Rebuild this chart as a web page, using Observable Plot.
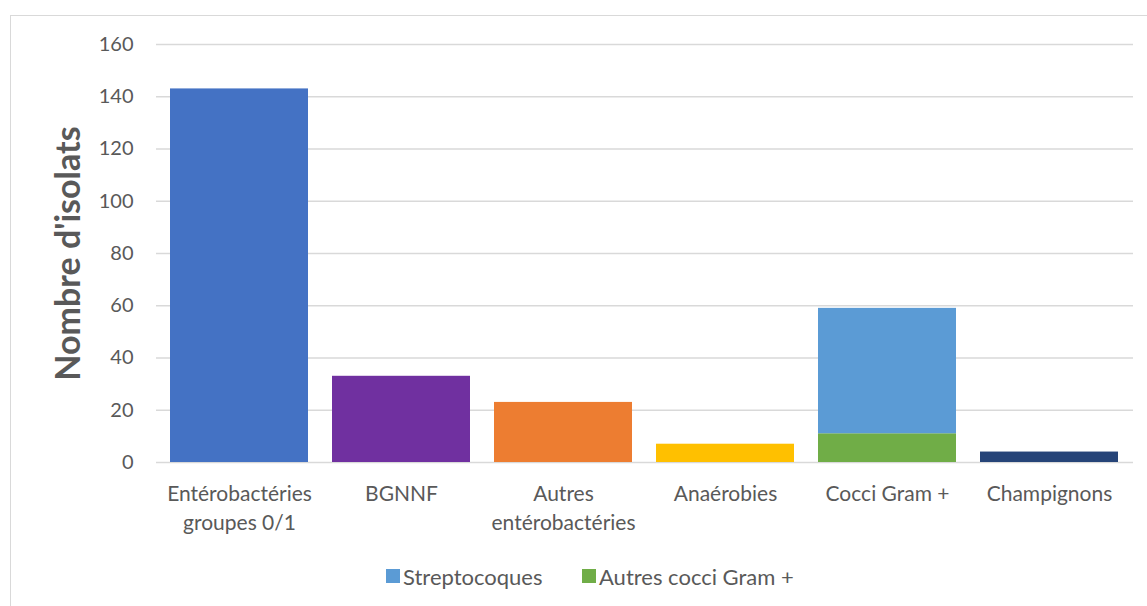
<!DOCTYPE html>
<html>
<head>
<meta charset="utf-8">
<script src="https://cdn.jsdelivr.net/npm/d3@7"></script>
<script src="https://cdn.jsdelivr.net/npm/@observablehq/plot@0.6"></script>
<style>
  html, body { margin: 0; padding: 0; background: #fff; overflow: hidden; width: 1147px; height: 606px; }
  #frame { position: absolute; left: 10px; top: 15px; width: 1200px; height: 700px; border: 1px solid #d9d9d9; box-sizing: border-box; }
  #chart { position: absolute; left: 0; top: 0; }
  #legend { position: absolute; left: 0; top: 561px; width: 1147px; font-family: Lato, "Open Sans", sans-serif; font-size: 22px; color: #595959; }
  .item { position: absolute; top: 0; height: 30px; display: flex; align-items: center; white-space: nowrap; }
  .sw { width: 14px; height: 14px; margin-right: 3px; display: inline-block; }
</style>
</head>
<body>
<div id="frame"></div>
<div id="chart"></div>
<div id="legend"></div>
<script>
// Data
const categories = ["Entérobactéries\ngroupes 0/1", "BGNNF", "Autres\nentérobactéries", "Anaérobies", "Cocci Gram +", "Champignons"];
const barCategory = ["Entérobactéries\ngroupes 0/1", "BGNNF", "Autres\nentérobactéries", "Anaérobies", "Cocci Gram +", "Cocci Gram +", "Champignons"];
const barSeries = ["Entérobactéries groupes 0/1", "BGNNF", "Autres entérobactéries", "Anaérobies", "Autres cocci Gram +", "Streptocoques", "Champignons"];
const barValues = [143, 33, 23, 7, 11, 48, 4];
const seriesColors = ["#4472C4", "#7030A0", "#ED7D31", "#FFC000", "#70AD47", "#5B9BD5", "#264478"];
const yTicks = [0, 20, 40, 60, 80, 100, 120, 140, 160];
const yLabel = "Nombre d'isolats";
const legendLabels = ["Streptocoques", "Autres cocci Gram +"];
const legendColors = ["#5B9BD5", "#70AD47"];
const legendX = [386, 582];

const rows = barValues.map((v, i) => ({cat: barCategory[i], series: barSeries[i], value: v}));

const font = 'Lato, "Open Sans", sans-serif';
const chart = Plot.plot({
  width: 1147,
  height: 545,
  marginLeft: 156,
  marginRight: 14,
  marginTop: 44,
  marginBottom: 83,
  style: { fontFamily: font, fontSize: "21px", color: "#595959", background: "transparent" },
  x: { domain: categories, paddingInner: 0.147, paddingOuter: 0.0735, axis: null },
  y: { domain: [0, 160], axis: null },
  color: { domain: barSeries, range: seriesColors },
  marks: [
    Plot.ruleY(yTicks, { stroke: "#d9d9d9", strokeWidth: 1.5 }),
    Plot.barY(rows, Plot.stackY({ x: "cat", y: "value", fill: "series", order: null })),
    Plot.axisY({ ticks: yTicks, tickSize: 0, tickPadding: 23, label: null, fontSize: 20 }),
    Plot.axisX({ tickSize: 0, tickPadding: 18, label: null, fontSize: 21, lineHeight: 1.38 }),
    Plot.text([yLabel], { frameAnchor: "left", textAnchor: "middle", dx: -87, rotate: -90, fontSize: 34, fontWeight: "bold", fill: "#595959", text: d => d })
  ]
});
document.getElementById("chart").appendChild(chart);

const legend = document.getElementById("legend");
legendLabels.forEach((lab, i) => {
  const it = document.createElement("div");
  it.className = "item";
  it.style.left = legendX[i] + "px";
  const sw = document.createElement("span");
  sw.className = "sw";
  sw.style.background = legendColors[i];
  it.appendChild(sw);
  it.appendChild(document.createTextNode(lab));
  legend.appendChild(it);
});
</script>
</body>
</html>
